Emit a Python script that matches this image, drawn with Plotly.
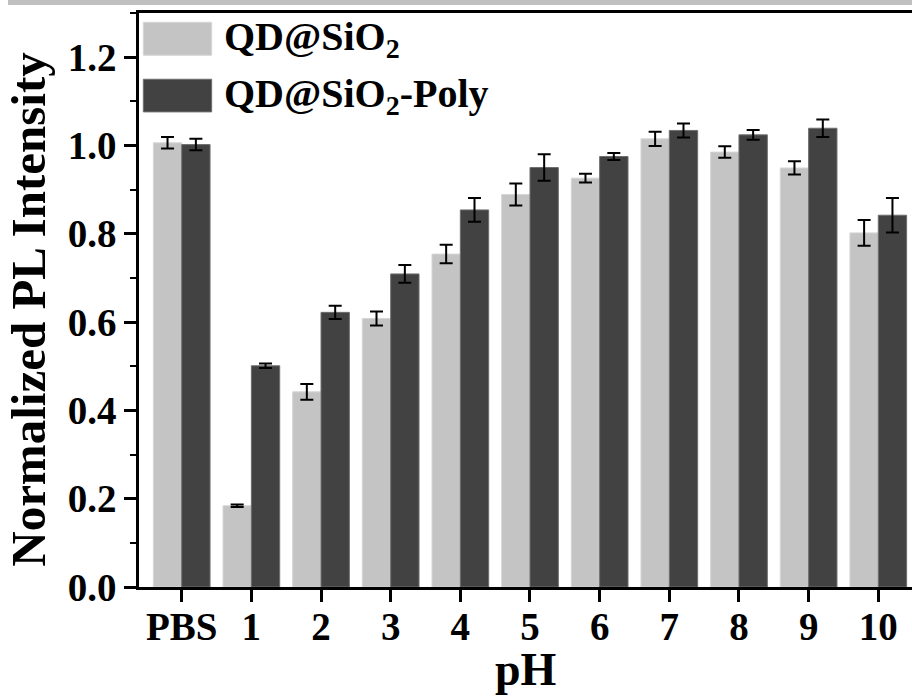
import plotly.graph_objects as go

categories = ["PBS", "1", "2", "3", "4", "5", "6", "7", "8", "9", "10"]
sio2_values = [1.006, 0.184, 0.442, 0.608, 0.754, 0.889, 0.926, 1.015, 0.985, 0.949, 0.802]
sio2_errors = [0.013, 0.003, 0.018, 0.016, 0.021, 0.025, 0.010, 0.016, 0.013, 0.015, 0.029]
poly_values = [1.002, 0.501, 0.622, 0.709, 0.854, 0.950, 0.975, 1.034, 1.024, 1.039, 0.842]
poly_errors = [0.013, 0.005, 0.015, 0.020, 0.027, 0.030, 0.008, 0.016, 0.011, 0.020, 0.039]
series_names = ["QD@SiO<sub>2</sub>", "QD@SiO<sub>2</sub>-Poly"]
y_ticks = [0.0, 0.2, 0.4, 0.6, 0.8, 1.0, 1.2]

FONT = "Liberation Serif"
LIGHT = "#c4c4c4"
DARK = "#424242"

fig = go.Figure()
fig.add_trace(go.Bar(
    x=categories, y=sio2_values, name=series_names[0],
    marker=dict(color=LIGHT, line=dict(color="#d6d6d6", width=1)),
    error_y=dict(type="data", array=sio2_errors, visible=True,
                 color="black", thickness=2, width=6.5),
))
fig.add_trace(go.Bar(
    x=categories, y=poly_values, name=series_names[1],
    marker=dict(color=DARK, line=dict(color="#6e6e6e", width=1)),
    error_y=dict(type="data", array=poly_errors, visible=True,
                 color="black", thickness=2, width=6.5),
))

fig.update_layout(
    width=912, height=697,
    margin=dict(l=139, r=0, t=13, b=110),
    paper_bgcolor="white", plot_bgcolor="white",
    barmode="group", bargap=0.186, bargroupgap=0,
    showlegend=False,
    font=dict(family=FONT, color="black"),
)
fig.update_xaxes(
    type="category", range=[-0.613, 10.484],
    showline=True, linecolor="black", linewidth=2.5, mirror=True,
    ticks="outside", ticklen=12, tickwidth=2.5, tickcolor="black",
    tickfont=dict(family=FONT, size=39, weight="bold"),
    ticklabelstandoff=-9,
    showgrid=False, zeroline=False,
)
fig.update_yaxes(
    range=[0, 1.3], tickvals=y_ticks, ticktext=[f"{v:.1f}" for v in y_ticks],
    showline=True, linecolor="black", linewidth=2.5, mirror=False,
    ticks="outside", ticklen=12, tickwidth=2.5, tickcolor="black",
    tickfont=dict(family=FONT, size=39, weight="bold"),
    minor=dict(dtick=0.1, ticks="outside", ticklen=6, tickwidth=2, tickcolor="black", showgrid=False),
    showgrid=False, zeroline=False,
)

annotations = [
    dict(text="<b>Normalized PL Intensity</b>", textangle=-90, xref="paper", yref="paper",
         x=-0.1423, y=0.483, xanchor="center", yanchor="middle", showarrow=False,
         font=dict(family=FONT, size=49, color="black")),
    dict(text="<b>pH</b>", xref="paper", yref="paper", x=0.5006, y=-0.143,
         xanchor="center", yanchor="middle", showarrow=False,
         font=dict(family=FONT, size=46, color="black")),
]
# legend (drawn manually to match large swatches)
legend_rows = [(0.9838, 0.9264, LIGHT, "#d6d6d6", series_names[0]),
               (0.8846, 0.8277, DARK, "#6e6e6e", series_names[1])]
shapes = []
for y0, y1, fill, edge, label in legend_rows:
    shapes.append(dict(type="rect", xref="paper", yref="paper", x0=0.0056, x1=0.094,
                       y0=y1, y1=y0, fillcolor=fill, line=dict(color=edge, width=1)))
    annotations.append(dict(text=f"<b>{label}</b>", xref="paper", yref="paper", x=0.107,
                            y=(y0 + y1) / 2, xanchor="left", yanchor="middle", showarrow=False,
                            font=dict(family=FONT, size=40, color="black")))
# grey band along top edge of the image
shapes.append(dict(type="rect", xref="paper", yref="paper", x0=-0.1695, x1=1.0,
                   y0=1.0139, y1=1.03, fillcolor="#c0c0c0", line=dict(width=0), layer="below"))
fig.update_layout(annotations=annotations, shapes=shapes)

fig.write_html("out.html", config={"displayModeBar": False},
               post_script="document.body.style.margin='0px';document.body.style.overflow='hidden';")
